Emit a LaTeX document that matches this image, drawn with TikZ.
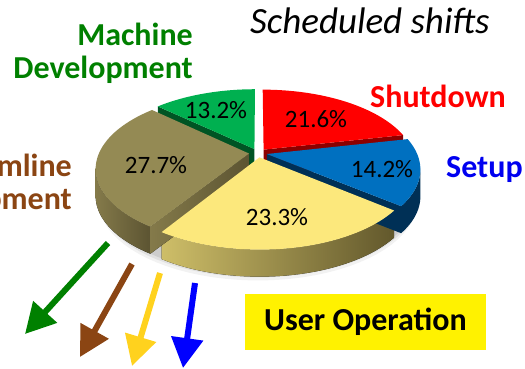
\documentclass[tikz,border=0pt]{standalone}
\usepackage{fontspec}
\setmainfont{Carlito}
\usetikzlibrary{arrows.meta}

\definecolor{redtop}{RGB}{255,0,0}
\definecolor{redside}{RGB}{140,0,0}
\definecolor{bluetop}{RGB}{0,112,192}
\definecolor{blueside}{RGB}{0,48,86}
\definecolor{yellowtop}{RGB}{252,232,124}
\definecolor{beamtop}{RGB}{148,138,84}
\definecolor{greentop}{RGB}{0,176,80}
\definecolor{greenside}{RGB}{0,84,36}
\definecolor{mdgreen}{RGB}{0,128,0}
\definecolor{bdbrown}{RGB}{139,69,19}
\definecolor{uogold}{RGB}{255,210,30}
\definecolor{setupblue}{RGB}{0,0,240}
\definecolor{yellowlit}{RGB}{206,190,104}
\definecolor{yellowdark}{RGB}{98,88,44}
\definecolor{beamlit}{RGB}{132,122,74}
\definecolor{beamdark}{RGB}{92,84,50}

\begin{document}
\begin{tikzpicture}[x=1pt,y=-1pt,
  % tilted disc: plane point (X,Y) -> page
  declare function={
    px(\X,\Y)=258+150*\X/(1+0.192*\Y);
    py(\X,\Y)=153-72.7*\Y/(1+0.192*\Y);
  },
  redt/.style={fill=redtop},
  redd/.style={fill=redside},
  bluet/.style={fill=bluetop},
  blued/.style={fill=blueside},
  yellowt/.style={fill=yellowtop},
  yellowd/.style={left color=yellowlit, right color=yellowdark},
  beamt/.style={fill=beamtop},
  beamd/.style={left color=beamlit, right color=beamdark},
  greent/.style={fill=greentop},
  greend/.style={fill=greenside},
  pct/.style={font=\fontsize{25}{30}\selectfont},
  lbl/.style={font=\fontsize{32}{33}\selectfont\bfseries, inner sep=0pt},
  arr/.style={line width=6pt, -{Triangle[length=30pt,width=31pt]}},
]

\useasboundingbox (0,0) rectangle (525,368);
\clip (0,0) rectangle (525,368);

% soft shadow under the front rim
\foreach \s/\o in {6/0.05,3/0.07,0/0.09} {
  \fill[black, opacity=\o]
    plot[domain=195:345,samples=40] ({px(1.04*cos(\x),1.04*sin(\x))},{py(1.04*cos(\x),1.04*sin(\x))+27+\s})
    -- plot[domain=345:195,samples=40] ({px(0.9*cos(\x),0.9*sin(\x))},{py(0.9*cos(\x),0.9*sin(\x))+20})
    -- cycle;
}

% rim bands (front half only)
\foreach [evaluate=\m as \ox using 0.06*cos(\m), evaluate=\m as \oy using 0.06*sin(\m)]
  \lo/\hi/\m/\st in {321.12/349/346.68/blued, 191/237.24/187.38/beamd, 237.24/321.12/279.18/yellowd} {
  \fill[\st]
    plot[domain=\lo:\hi,samples=40] ({px(cos(\x)+\ox,sin(\x)+\oy)},{py(cos(\x)+\ox,sin(\x)+\oy)})
    -- plot[domain=\hi:\lo,samples=40] ({px(cos(\x)+\ox,sin(\x)+\oy)},{py(cos(\x)+\ox,sin(\x)+\oy)+27})
    -- cycle;
}

% cut faces that look towards us
\foreach [evaluate=\m as \ox using 0.06*cos(\m), evaluate=\m as \oy using 0.06*sin(\m)]
  \ang/\m/\st in {12.24/51.12/redd, 137.52/113.76/greend, 237.24/187.38/beamd, 321.12/346.68/blued} {
  \fill[\st] ({px(\ox,\oy)},{py(\ox,\oy)})
    -- ({px(cos(\ang)+\ox,sin(\ang)+\oy)},{py(cos(\ang)+\ox,sin(\ang)+\oy)})
    -- ++(0,27) -- ({px(\ox,\oy)},{py(\ox,\oy)+27}) -- cycle;
}

% top faces, back to front
\foreach [evaluate=\m as \ox using 0.06*cos(\m), evaluate=\m as \oy using 0.06*sin(\m)]
  \a/\b/\m/\st in {90/137.52/113.76/greent, 12.24/90/51.12/redt, 321.12/372.24/346.68/bluet,
                   137.52/237.24/187.38/beamt, 237.24/321.12/279.18/yellowt} {
  \fill[\st] ({px(\ox,\oy)},{py(\ox,\oy)})
    -- plot[domain=\a:\b,samples=50] ({px(cos(\x)+\ox,sin(\x)+\oy)},{py(cos(\x)+\ox,sin(\x)+\oy)})
    -- cycle;
}

% shares
\node (pctmd) [pct] at (216,110) {13.2\%};
\node (pctsd) [pct] at (316,119) {21.6\%};
\node (pctsu) [pct] at (382,169) {14.2\%};
\node (pctuo) [pct] at (277,217) {23.3\%};
\node (pctbd) [pct] at (156,165) {27.7\%};

% labels
\node (title) [anchor=base west, inner sep=0pt, font=\fontsize{37}{40}\selectfont\itshape] at (250,33) {Scheduled shifts};
\node (mdlabel) [lbl, mdgreen, align=right, anchor=north east] at (193,23) {Machine\\Development};
\node (bdlabel) [lbl, bdbrown, align=right, anchor=north east] at (72,154) {Beamline\\Development};
\node (sdlabel) [lbl, redtop, anchor=base west] at (370,107) {Shutdown};
\node (sulabel) [lbl, setupblue, anchor=base west] at (446,177) {Setup};
\node (uolabel) [lbl, fill=yellow, minimum width=241pt, minimum height=56pt] at (365.5,322) {User Operation};

% arrows
\coordinate (mdtail) at (108,243);
\coordinate (mdtip) at (25,334);
\coordinate (bdtail) at (132,264);
\coordinate (bdtip) at (80,357);
\coordinate (uotail) at (160,273);
\coordinate (uotip) at (132,366);
\coordinate (sutail) at (195,283);
\coordinate (sutip) at (183,368);

\draw[arr, mdgreen] (mdtail) -- (mdtip);
\draw[arr, bdbrown] (bdtail) -- (bdtip);
\draw[arr, uogold] (uotail) -- (uotip);
\draw[arr, blue] (sutail) -- (sutip);

\end{tikzpicture}
\end{document}
